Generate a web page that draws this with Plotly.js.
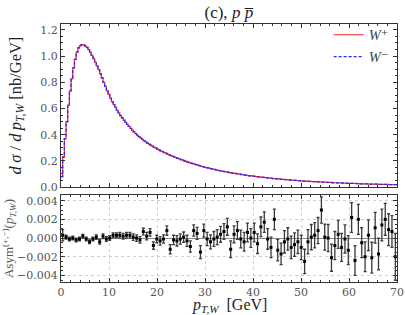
<!DOCTYPE html>
<html><head><meta charset="utf-8">
<script src="https://cdn.plot.ly/plotly-3.0.1.min.js"></script>
<style>html,body{margin:0;padding:0;background:#fff}#chart{width:405px;height:315px}</style>
</head><body><div id="chart"></div>
<script>
// Top panel: dσ/dpT,W histogram, bins of 0.35 GeV from 0 to 70 GeV
const binWidthTop = 0.35;
const wPlus = [
0.080,0.230,0.370,0.500,0.625,0.735,0.826,0.910,0.975,1.030,
1.062,1.080,1.087,1.085,1.078,1.066,1.050,1.030,1.006,0.980,
0.953,0.926,0.896,0.865,0.833,0.800,0.768,0.737,0.707,0.678,
0.653,0.630,0.608,0.586,0.566,0.546,0.528,0.510,0.494,0.478,
0.463,0.448,0.434,0.421,0.408,0.396,0.385,0.374,0.364,0.354,
0.345,0.336,0.328,0.320,0.312,0.304,0.297,0.290,0.283,0.277,
0.270,0.264,0.258,0.252,0.246,0.241,0.235,0.230,0.225,0.220,
0.215,0.210,0.205,0.200,0.196,0.191,0.187,0.183,0.179,0.175,
0.171,0.167,0.163,0.159,0.156,0.152,0.149,0.146,0.143,0.140,
0.137,0.134,0.131,0.128,0.125,0.123,0.120,0.118,0.115,0.113,
0.110,0.108,0.106,0.104,0.102,0.100,0.098,0.096,0.094,0.092,
0.090,0.088,0.086,0.085,0.083,0.081,0.080,0.078,0.077,0.075,
0.074,0.072,0.071,0.069,0.068,0.067,0.065,0.064,0.063,0.062,
0.060,0.059,0.058,0.057,0.056,0.055,0.054,0.053,0.052,0.051,
0.050,0.049,0.048,0.047,0.046,0.046,0.045,0.044,0.043,0.042,
0.042,0.041,0.040,0.039,0.039,0.038,0.037,0.037,0.036,0.035,
0.035,0.034,0.033,0.033,0.032,0.032,0.031,0.031,0.030,0.030,
0.029,0.029,0.028,0.028,0.027,0.027,0.026,0.026,0.025,0.025,
0.025,0.024,0.024,0.023,0.023,0.023,0.022,0.022,0.022,0.021,
0.021,0.021,0.020,0.020,0.020,0.019,0.019,0.019,0.018,0.018];
const wMinus = [
0.080,0.229,0.370,0.500,0.625,0.735,0.826,0.910,0.975,1.030,
1.062,1.080,1.087,1.085,1.078,1.066,1.050,1.030,1.006,0.980,
0.953,0.926,0.896,0.865,0.833,0.800,0.768,0.737,0.707,0.678,
0.653,0.630,0.608,0.586,0.566,0.546,0.528,0.510,0.494,0.478,
0.463,0.448,0.434,0.421,0.408,0.396,0.385,0.374,0.364,0.354,
0.345,0.336,0.328,0.320,0.312,0.304,0.297,0.290,0.283,0.277,
0.270,0.264,0.258,0.252,0.246,0.241,0.235,0.230,0.225,0.220,
0.215,0.210,0.205,0.200,0.196,0.191,0.187,0.183,0.179,0.175,
0.171,0.167,0.163,0.159,0.156,0.152,0.149,0.146,0.143,0.140,
0.137,0.134,0.131,0.128,0.125,0.123,0.120,0.118,0.115,0.113,
0.110,0.108,0.106,0.104,0.102,0.100,0.098,0.096,0.094,0.092,
0.090,0.088,0.086,0.085,0.083,0.081,0.080,0.078,0.077,0.075,
0.074,0.072,0.071,0.069,0.068,0.067,0.065,0.064,0.063,0.062,
0.060,0.059,0.058,0.057,0.056,0.055,0.054,0.053,0.052,0.051,
0.050,0.049,0.048,0.047,0.046,0.046,0.045,0.044,0.043,0.042,
0.042,0.041,0.040,0.039,0.039,0.038,0.037,0.037,0.036,0.035,
0.035,0.034,0.033,0.033,0.032,0.032,0.031,0.031,0.030,0.030,
0.029,0.029,0.028,0.028,0.027,0.027,0.026,0.026,0.025,0.025,
0.025,0.024,0.024,0.023,0.023,0.023,0.022,0.022,0.022,0.021,
0.021,0.021,0.020,0.020,0.020,0.019,0.019,0.019,0.018,0.018];

// Bottom panel: asymmetry, bins of 0.7 GeV from 0 to 70 GeV
const binWidthAsym = 0.7;
const asym = [
0.0003,0.0001,-0.0001,0.0000,-0.0002,-0.0001,0.0002,-0.0001,-0.0004,-0.0001,
0.0001,-0.0004,0.0002,-0.0001,0.0000,0.0003,0.0003,0.0003,0.0002,0.0003,
0.0003,0.0001,0.0000,-0.0002,0.0007,0.0002,0.0006,-0.0008,-0.0001,-0.0003,
-0.0001,0.0008,-0.0012,-0.0002,-0.0003,-0.0001,0.0001,-0.0003,-0.0009,0.0008,
0.0005,-0.0015,0.0008,-0.0001,-0.0004,-0.0001,0.0001,0.0004,0.0007,0.0012,
-0.0012,0.0004,0.0008,-0.0001,-0.0004,0.0006,0.0000,0.0006,-0.0006,0.0012,
0.0017,-0.0001,-0.0010,0.0020,-0.0013,-0.0017,-0.0004,-0.0001,-0.0010,-0.0007,
-0.0004,-0.0010,-0.0025,-0.0004,0.0001,0.0003,0.0008,0.0030,0.0001,0.0000,
-0.0021,-0.0008,0.0004,-0.0010,-0.0001,-0.0013,0.0022,-0.0024,0.0020,-0.0005,
-0.0020,0.0003,-0.0021,0.0011,-0.0017,0.0014,0.0020,0.0009,0.0007,-0.0020];
const asymErr = [
0.0006,0.0002,0.0002,0.0002,0.0002,0.0002,0.0002,0.0002,0.0002,0.0002,
0.00025,0.00025,0.00025,0.00025,0.00025,0.00025,0.00025,0.0003,0.0003,0.0003,
0.0003,0.00035,0.00035,0.00035,0.00035,0.0004,0.0004,0.0004,0.0004,0.00045,
0.00045,0.0005,0.0005,0.0005,0.00055,0.00055,0.00055,0.0006,0.0006,0.0006,
0.00065,0.0007,0.0007,0.0007,0.00075,0.0008,0.0008,0.00085,0.00085,0.0009,
0.0009,0.0009,0.00095,0.00095,0.001,0.001,0.001,0.001,0.00105,0.00105,
0.0011,0.0011,0.0011,0.0011,0.00115,0.00115,0.0012,0.0012,0.0012,0.00125,
0.00125,0.0013,0.0013,0.0013,0.00135,0.00135,0.0014,0.0014,0.0014,0.00145,
0.00145,0.0015,0.0015,0.0015,0.0015,0.00155,0.0016,0.0016,0.0016,0.0016,
0.0016,0.00165,0.00165,0.00165,0.0017,0.0017,0.0017,0.0017,0.0017,0.0025];

// tick positions (linear series; first value and step are taken from these)
const xTicks = [0,10,20,30,40,50,60,70];
const yTopTicks = [0.0,0.2,0.4,0.6,0.8,1.0,1.2];
const yBotTicks = [-0.004,-0.002,0.0,0.002,0.004];

// step histogram built from bin edges
const edgesTop = wPlus.map((_, i) => i * binWidthTop);
edgesTop.push(wPlus.length * binWidthTop);
const stepPlus = wPlus.concat([wPlus[wPlus.length - 1]]);
const stepMinus = wMinus.concat([wMinus[wMinus.length - 1]]);
const centersAsym = asym.map((_, i) => (i + 0.5) * binWidthAsym);

const serif = "'DejaVu Serif', serif";
const titleSerif = "'Liberation Serif', 'DejaVu Serif', serif";
const frame = '#333';

const traces = [
  {x: edgesTop, y: stepPlus, type: 'scatter', mode: 'lines', line: {shape: 'hv', color: '#ff2020', width: 1.2},
   name: '<i>W</i>\u207A', xaxis: 'x', yaxis: 'y'},
  {x: edgesTop, y: stepMinus, type: 'scatter', mode: 'lines', line: {shape: 'hv', color: '#2a2aff', width: 1.3, dash: '3px,2px'},
   name: '<i>W</i>\u207B', xaxis: 'x', yaxis: 'y'},
  {x: centersAsym, y: asym, type: 'scatter', mode: 'markers', showlegend: false,
   marker: {symbol: 'square', size: 3, color: '#000'},
   error_y: {type: 'data', array: asymErr, visible: true, color: '#3a3a3a', thickness: 1.3, width: 1.5},
   xaxis: 'x2', yaxis: 'y2'}
];

function axis(ticks, fmt, extra) {
  return Object.assign({
    showline: true, linecolor: frame, linewidth: 1, mirror: 'allticks',
    tickmode: 'linear', tick0: ticks[0], dtick: ticks[1] - ticks[0], tickformat: fmt,
    ticks: 'inside', ticklen: 4, tickcolor: frame, tickwidth: 1,
    tickfont: {family: serif, size: 11, color: '#555555'},
    zeroline: false
  }, extra);
}

const layout = {
  width: 405, height: 315,
  margin: {l: 61, r: 8, t: 24, b: 33},
  paper_bgcolor: '#fff', plot_bgcolor: '#fff',
  font: {family: serif, color: '#555555', size: 11},
  title: {text: '(c), <i>p</i> <i>p\u0305</i>', x: 0.565, xanchor: 'center', y: 0.962, yanchor: 'middle',
          font: {family: titleSerif, size: 17, color: '#222'}},
  showlegend: true,
  legend: {x: 0.99, xanchor: 'right', y: 1.02, yanchor: 'top', bgcolor: 'rgba(0,0,0,0)',
           font: {family: titleSerif, size: 14.5, color: '#444'}, itemwidth: 30, tracegroupgap: 0},
  annotations: [
    {text: '<i>p</i><sub><i>T,W</i></sub>  [GeV]', xref: 'paper', yref: 'paper', x: 0.5, y: 0,
     xanchor: 'center', yanchor: 'middle', yshift: -23, showarrow: false,
     font: {family: titleSerif, size: 16, color: '#222'}}
  ],
  xaxis: axis(xTicks, 'd', {domain: [0, 1], anchor: 'y', range: [0, 70],
          showticklabels: false, showgrid: false, matches: 'x2',
          minor: {ticks: 'inside', dtick: 2, ticklen: 2, tickcolor: frame, showgrid: false}}),
  yaxis: axis(yTopTicks, '.1f', {domain: [0.368, 1], anchor: 'x', range: [0, 1.245], showgrid: false,
          minor: {ticks: 'inside', dtick: 0.05, ticklen: 2, tickcolor: frame, showgrid: false},
          title: {text: '<i>d\u2009\u03c3</i> / <i>d\u2009p</i><sub><i>T,W</i></sub> [nb/GeV]', standoff: 14,
                  font: {family: titleSerif, size: 16.5, color: '#222'}}}),
  xaxis2: axis(xTicks, 'd', {domain: [0, 1], anchor: 'y2', range: [0, 70],
          showgrid: true, gridcolor: '#d0d0d0', griddash: 'dot', gridwidth: 1,
          minor: {ticks: 'inside', dtick: 2, ticklen: 2, tickcolor: frame, showgrid: false}}),
  yaxis2: axis(yBotTicks, '.3f', {domain: [0, 0.337], anchor: 'x2', range: [-0.0047, 0.0046],
          showgrid: true, gridcolor: '#d0d0d0', griddash: 'dot', gridwidth: 1,
          zeroline: true, zerolinecolor: '#8a8a8a', zerolinewidth: 1,
          minor: {ticks: 'inside', dtick: 0.0005, ticklen: 2, tickcolor: frame, showgrid: false},
          title: {text: 'Asym<sup>(+,\u2212)</sup>(<i>p</i><sub><i>T,W</i></sub>)', standoff: 3,
                  font: {family: titleSerif, size: 13, color: '#555'}}})
};

Plotly.newPlot('chart', traces, layout, {displayModeBar: false, staticPlot: true});
</script>
</body></html>
